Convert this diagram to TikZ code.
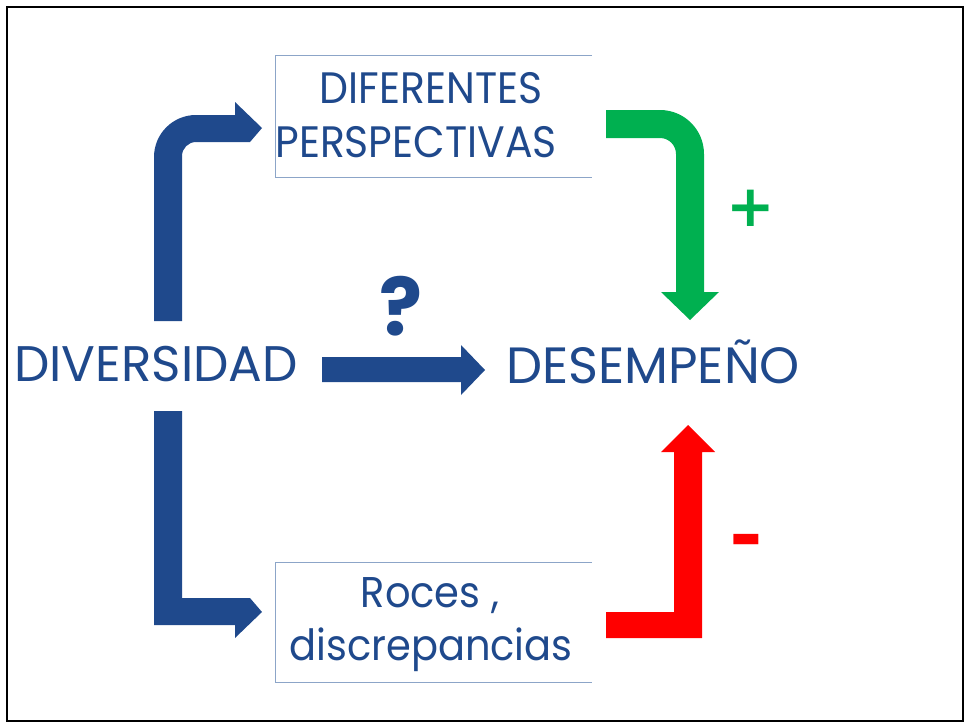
\documentclass[tikz,border=0pt]{standalone}
\usepackage{fontspec}
\setmainfont{Poppins}
\newfontfamily\boxfont{Poppins}[FakeStretch=0.93]
\newfontfamily\symfont{DejaVu Sans}
\definecolor{dblue}{RGB}{31,73,140}
\definecolor{pgreen}{RGB}{0,176,80}
\definecolor{pred}{RGB}{255,0,0}
\definecolor{boxline}{RGB}{140,165,200}
\tikzset{
  lbl/.style={anchor=base, inner sep=0pt, text=dblue},
  boxedge/.style={draw=boxline, line width=1pt},
}
\begin{document}
\begin{tikzpicture}[x=1pt,y=-1pt]
\useasboundingbox (0,0) rectangle (968,725);
\draw[line width=2.5pt] (7,7) rectangle (963,721);

% boxes (open on the right)
\draw[boxedge] (592,56) -- (275,56) -- (275,177) -- (592,177);
\draw[boxedge] (592,562) -- (275,562) -- (275,682) -- (592,682);

% texts
\node[lbl, font=\boxfont\fontsize{44}{44}\selectfont] (dif1) at (431,103) {DIFERENTES};
\node[lbl, font=\boxfont\fontsize{44}{44}\selectfont] (dif2) at (416,157) {PERSPECTIVAS};
\node[lbl, font=\boxfont\fontsize{43}{43}\selectfont] (roc1) at (430,607) {Roces ,};
\node[lbl, font=\boxfont\fontsize{43}{43}\selectfont] (roc2) at (431,660) {discrepancias};
\node[lbl, font=\fontsize{50}{50}\selectfont] (div) at (156,381) {DIVERSIDAD};
\node[lbl, font=\fontsize{51}{51}\selectfont] (des) at (653,383) {DESEMPEÑO};
\node[lbl, font=\fontsize{80}{80}\selectfont\bfseries] (q) at (401,335) {?};
\node[anchor=center, inner sep=0pt, text=pgreen, font=\symfont\bfseries\fontsize{58}{58}\selectfont] (plus) at (751,208) {+};
\node[anchor=center, inner sep=0pt, text=pred, xscale=1.45, yscale=1.3, font=\symfont\bfseries\fontsize{56}{56}\selectfont] (minus) at (746.5,547) {-};

% blue bent arrow up to top box
\fill[dblue] (154,321) -- (154,157) .. controls (154,133.8) and (172.8,115) .. (196,115)
  -- (235,115) -- (235,102) -- (262,128) -- (250,142) -- (196,142)
  .. controls (188.3,142) and (182,148.3) .. (182,156) -- (182,321) -- cycle;
% blue bent arrow down to bottom box
\fill[dblue] (154,411) -- (182,411) -- (182,598) -- (250,598) -- (262,612) -- (235,638)
  -- (235,625) -- (154,625) -- cycle;
% blue straight arrow
\fill[dblue] (322,357) -- (461,357) -- (461,345) -- (485,370) -- (461,395) -- (461,382)
  -- (322,382) -- cycle;
% green arrow
\fill[pgreen] (606,110) -- (660,110) .. controls (684.3,110) and (704,129.7) .. (704,154)
  -- (704,292) -- (719,292) -- (690,320) -- (661,292) -- (676,292) -- (676,154)
  .. controls (676,145.2) and (668.8,138) .. (660,138) -- (606,138) -- cycle;
% red arrow
\fill[pred] (606,612) -- (674,612) -- (674,452) -- (661,452) -- (688,425) -- (715,452)
  -- (702,452) -- (702,638) -- (606,638) -- cycle;
\end{tikzpicture}
\end{document}
